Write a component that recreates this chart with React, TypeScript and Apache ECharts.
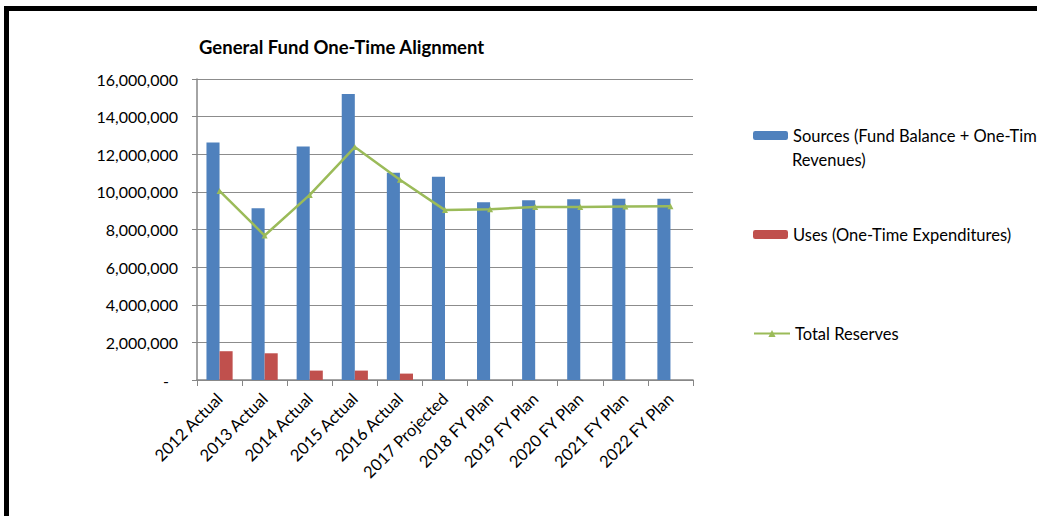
import React, { useEffect, useRef } from "react";
import * as echarts from "echarts";

const categories = [
  "2012 Actual",
  "2013 Actual",
  "2014 Actual",
  "2015 Actual",
  "2016 Actual",
  "2017 Projected",
  "2018 FY Plan",
  "2019 FY Plan",
  "2020 FY Plan",
  "2021 FY Plan",
  "2022 FY Plan",
];
const sources = [12620000, 9130000, 12410000, 15200000, 11010000, 10810000, 9450000, 9560000, 9610000, 9630000, 9640000];
const uses = [1530000, 1420000, 500000, 500000, 340000, 0, 0, 0, 0, 0, 0];
const totalReserves = [10050000, 7680000, 9840000, 12380000, 10640000, 9030000, 9080000, 9190000, 9200000, 9220000, 9240000];

const SOURCES_NAME = "Sources (Fund Balance + One-Time Revenues)";
const SOURCES_LINE1 = "Sources (Fund Balance + One-Time";
const SOURCES_LINE2 = "Revenues)";
const USES_NAME = "Uses (One-Time Expenditures)";
const RESERVES_NAME = "Total Reserves";
const TITLE = "General Fund One-Time Alignment";

const FONT = "Lato";

export default function App() {
  const ref = useRef<HTMLDivElement>(null);
  useEffect(() => {
    if (!ref.current) return;
    const chart = echarts.init(ref.current, null, { renderer: "svg" });
    const legendText = { fontFamily: FONT, fontSize: 16.5, color: "#000" };
    chart.setOption({
      animation: false,
      backgroundColor: "#fff",
      title: {
        text: TITLE,
        left: 194,
        top: 32,
        textStyle: { fontFamily: FONT, fontSize: 18.5, fontWeight: "bold", color: "#000" },
      },
      graphic: [
        {
          type: "rect",
          shape: { x: 6.5, y: 8.5, width: 1200, height: 700 },
          style: { fill: "none", stroke: "#000", lineWidth: 5 },
          silent: true,
        },
        {
          type: "text",
          x: 792,
          y: 159.5,
          style: {
            text: SOURCES_LINE2,
            fontFamily: FONT,
            fontSize: 16.5,
            fill: "#000",
            verticalAlign: "middle",
            align: "left",
          },
          silent: true,
        },
      ],
      legend: [
        {
          data: [SOURCES_NAME],
          left: 748,
          top: 122,
          itemWidth: 35,
          itemHeight: 9,
          formatter: () => SOURCES_LINE1,
          textStyle: legendText,
        },
        {
          data: [USES_NAME],
          left: 748,
          top: 221,
          itemWidth: 35,
          itemHeight: 9,
          textStyle: legendText,
        },
        {
          data: [RESERVES_NAME],
          left: 748,
          top: 320,
          itemWidth: 36,
          itemHeight: 9,
          textStyle: legendText,
        },
      ],
      grid: { left: 197, right: 344, top: 79, bottom: 136, containLabel: false },
      xAxis: {
        type: "category",
        data: categories,
        boundaryGap: true,
        axisLine: { show: true, lineStyle: { color: "#868686", width: 1.5 } },
        axisTick: { show: true, length: 6, alignWithLabel: false, lineStyle: { color: "#868686" } },
        axisLabel: {
          rotate: 45,
          interval: 0,
          margin: 16,
          fontFamily: FONT,
          fontSize: 16.5,
          color: "#000",
        },
        splitLine: { show: false },
      },
      yAxis: {
        type: "value",
        min: 0,
        max: 16000000,
        interval: 2000000,
        axisLine: { show: true, lineStyle: { color: "#868686", width: 1.5 } },
        axisTick: { show: true, length: 5, inside: false, lineStyle: { color: "#868686" } },
        splitLine: { show: true, lineStyle: { color: "#8c8c8c", width: 1.2 } },
        axisLabel: {
          margin: 19,
          fontFamily: FONT,
          fontSize: 16,
          color: "#000",
          formatter: (v: number) => (v === 0 ? "{z|-}" : v.toLocaleString("en-US")),
          rich: { z: { fontFamily: FONT, fontSize: 16, color: "#000", padding: [0, 9, 0, 0] } },
        },
      },
      series: [
        {
          name: SOURCES_NAME,
          type: "bar",
          data: sources,
          barGap: "0%",
          barCategoryGap: "42%",
          itemStyle: { color: "#4F81BD" },
        },
        {
          name: USES_NAME,
          type: "bar",
          data: uses,
          itemStyle: { color: "#C0504D" },
        },
        {
          name: RESERVES_NAME,
          type: "line",
          data: totalReserves,
          symbol: "triangle",
          symbolSize: 6,
          lineStyle: { color: "#9BBB59", width: 2.5 },
          itemStyle: { color: "#9BBB59" },
          z: 5,
        },
      ],
    });
    return () => chart.dispose();
  }, []);
  return (
    <div
      ref={ref}
      style={{ position: "fixed", left: 0, top: 0, width: 1037, height: 516 }}
    />
  );
}
